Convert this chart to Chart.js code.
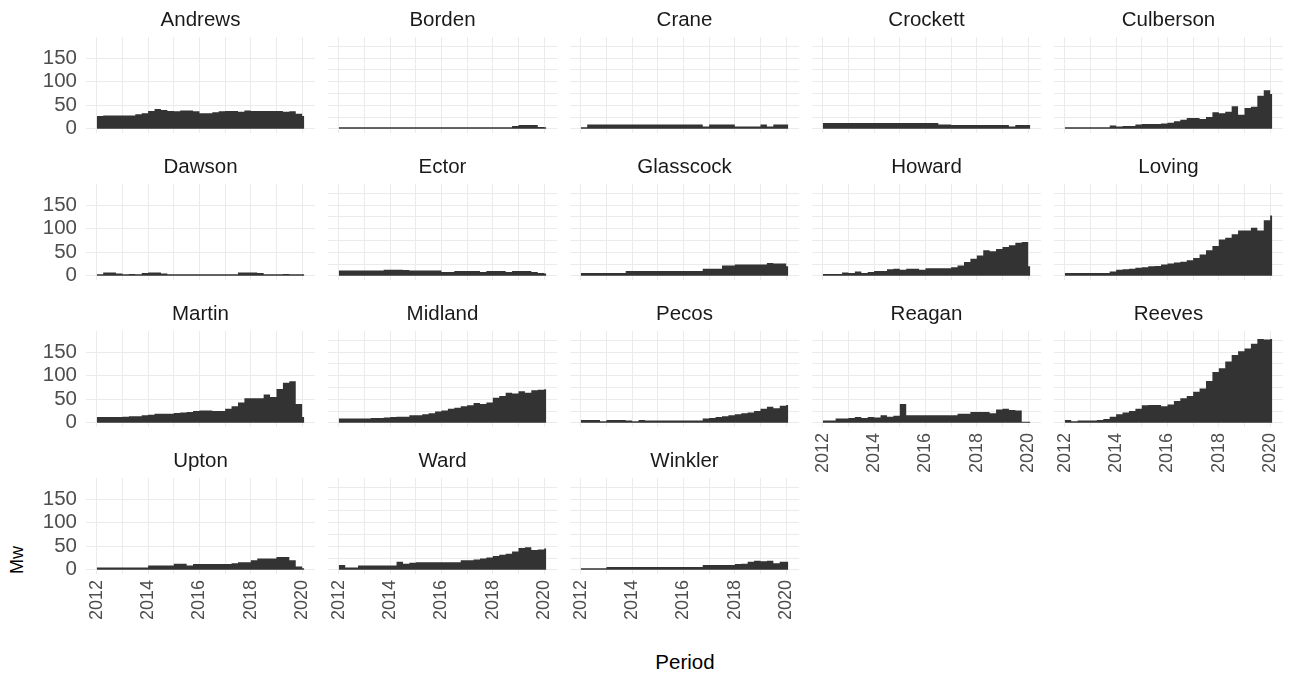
<!DOCTYPE html>
<html>
<head>
<meta charset="utf-8">
<script src="https://cdn.jsdelivr.net/npm/chart.js@4.4.1/dist/chart.umd.min.js"></script>
<style>
  body { margin: 0; background: #fff; font-family: "Liberation Sans", Arial, sans-serif; }
  #wrap { position: relative; width: 1292px; height: 675px; overflow: hidden; }
  #wrap canvas { position: absolute; }
  .axis-title { position: absolute; color: #000; white-space: nowrap; }
  #ylab { left: 17px; top: 560px; font-size: 18px; transform: translate(-50%, -50%) rotate(-90deg); }
  #xlab { left: 685px; top: 662px; font-size: 20.5px; transform: translate(-50%, -50%); }
</style>
</head>
<body>
<div id="wrap">
  <div class="axis-title" id="ylab">Mw</div>
  <div class="axis-title" id="xlab">Period</div>
</div>
<script>
// quarterly readings, last entry is the final month shown
const periods = [
  "2012-01", "2012-04", "2012-07", "2012-10",
  "2013-01", "2013-04", "2013-07", "2013-10",
  "2014-01", "2014-04", "2014-07", "2014-10",
  "2015-01", "2015-04", "2015-07", "2015-10",
  "2016-01", "2016-04", "2016-07", "2016-10",
  "2017-01", "2017-04", "2017-07", "2017-10",
  "2018-01", "2018-04", "2018-07", "2018-10",
  "2019-01", "2019-04", "2019-07", "2019-10",
  "2020-01", "2020-02"
];

const counties = ["Andrews", "Borden", "Crane", "Crockett", "Culberson",
  "Dawson", "Ector", "Glasscock", "Howard", "Loving",
  "Martin", "Midland", "Pecos", "Reagan", "Reeves",
  "Upton", "Ward", "Winkler"];

const andrews   = [28,27,28,28, 28,28,28,31, 33,38,42,40, 38,37,39,39, 37,33,33,35, 37,38,38,36, 39,38,38,38, 38,38,36,37, 32,27];
const borden    = [3,3,3,3, 3,3,3,3, 3,3,3,3, 3,3,3,3, 3,3,3,3, 3,3,3,3, 3,3,3,3, 6,8,8,8, 4,3];
const crane     = [3,3,9,9, 9,9,9,9, 9,9,9,9, 9,9,9,9, 9,9,9,9, 5,9,9,9, 9,5,5,5, 5,9,5,9, 9,9];
const crockett  = [7,12,12,12, 12,12,12,12, 12,12,12,12, 12,12,12,12, 12,12,12,9, 9,8,8,8, 8,8,8,8, 8,8,5,8, 8,8];
const culberson = [3,3,3,3, 3,3,3,3, 7,5,6,6, 9,10,10,10, 11,13,16,19, 23,23,21,25, 35,33,36,48, 30,44,47,70, 82,74];
const dawson    = [3,3,7,7, 5,3,4,3, 6,7,7,5, 3,3,3,3, 3,3,3,3, 3,3,3,7, 7,7,6,3, 3,3,4,3, 3,3];
const ector     = [6,11,11,11, 11,11,11,11, 13,13,13,12, 11,11,11,11, 11,8,8,10, 10,10,10,8, 10,10,10,8, 10,10,10,8, 6,5];
const glasscock = [5,6,6,6, 6,6,6,6, 10,10,10,10, 10,10,10,10, 10,10,10,10, 15,15,15,22, 22,24,24,24, 24,24,27,26, 26,20];
const howard    = [4,4,4,4, 7,6,9,6, 8,10,10,14, 15,13,15,15, 13,16,16,16, 16,18,22,29, 36,43,54,52, 57,61,65,70, 72,20];
const loving    = [3,6,6,6, 6,6,6,6, 9,13,14,15, 17,18,20,21, 24,26,28,30, 33,38,45,54, 63,77,81,88, 96,96,102,96, 118,128];
const martin    = [9,12,12,12, 12,13,14,14, 16,17,19,19, 19,21,22,23, 25,26,26,25, 25,30,35,43, 52,52,52,60, 55,72,85,88, 40,12];
const midland   = [9,9,9,9, 9,9,10,10, 11,12,13,13, 16,16,18,20, 24,26,30,32, 35,37,42,40, 43,53,57,64, 62,67,64,69, 70,71];
const pecos     = [6,6,6,6, 3,6,6,6, 5,3,6,5, 5,5,5,5, 5,5,5,5, 9,10,12,14, 16,18,20,22, 25,30,34,31, 36,38];
const reagan    = [5,5,5,9, 9,10,12,10, 12,11,16,13, 15,40,16,16, 16,16,16,16, 16,16,19,19, 23,23,23,20, 28,30,27,26, 2,2];
const reeves    = [6,6,3,5, 5,5,6,8, 13,18,22,25, 30,37,38,38, 35,39,46,52, 57,66,73,89, 108,116,130,144, 152,158,168,178, 177,178];
const upton     = [4,5,5,5, 5,5,5,5, 5,9,9,9, 9,13,13,9, 12,12,12,12, 12,12,14,16, 16,20,24,24, 24,27,27,20, 7,3];
const ward      = [5,10,5,5, 9,9,9,9, 9,9,17,13, 15,16,16,16, 16,16,16,16, 20,20,22,24, 26,29,32,34, 39,46,48,42, 43,45];
const winkler   = [3,3,3,3, 3,6,6,6, 6,6,6,6, 6,6,6,6, 6,6,6,6, 10,10,10,10, 10,12,13,17, 19,18,19,14, 17,17];

const series = [andrews, borden, crane, crockett, culberson, dawson, ector, glasscock, howard, loving,
  martin, midland, pecos, reagan, reeves, upton, ward, winkler];

const xTicks = [2012, 2013, 2014, 2015, 2016, 2017, 2018, 2019, 2020];
const yTicks = [0, 25, 50, 75, 100, 125, 150, 175];

const FONT = '"Liberation Sans", Arial, sans-serif';
Chart.defaults.font.family = FONT;

function toYear(p) {
  const [y, m] = p.split("-").map(Number);
  return y + (m - 1) / 12;
}

const rowTops = [0, 147, 294, 441];
const wrap = document.getElementById("wrap");

counties.forEach((name, i) => {
  const r = Math.floor(i / 5);
  const c = i % 5;
  const showY = c === 0;
  const showX = r === 3 || (r === 2 && c >= 3);

  const canvas = document.createElement("canvas");
  canvas.width = showY ? 315 : 229;
  canvas.height = 37 + 96 + 60;
  canvas.style.left = (showY ? 0 : 86 + 242 * c) + "px";
  canvas.style.top = rowTops[r] + "px";
  wrap.appendChild(canvas);

  const values = series[i];
  new Chart(canvas, {
    type: "line",
    data: {
      datasets: [{
        data: periods.map((p, k) => ({ x: toYear(p), y: values[k] })),
        fill: "origin",
        backgroundColor: "#333333",
        borderColor: "#333333",
        borderWidth: 0,
        pointRadius: 0,
        stepped: "after",
      }],
    },
    options: {
      responsive: false,
      animation: false,
      events: [],
      layout: { padding: 0 },
      plugins: {
        legend: { display: false },
        tooltip: { enabled: false },
        title: {
          display: true,
          text: name,
          fullSize: false,
          color: "#1a1a1a",
          font: { size: 20.5, weight: "normal", lineHeight: 1 },
          padding: { top: 10, bottom: 6.5 },
        },
      },
      scales: {
        x: {
          type: "linear",
          min: 2011.58,
          max: 2020.5,
          afterBuildTicks: (s) => { s.ticks = xTicks.map((v) => ({ value: v })); },
          afterFit: (s) => {
            s.height = 60;
            s.paddingLeft = 0;
            s.paddingRight = 0;
          },
          border: { display: false },
          grid: { color: "#ebebeb", lineWidth: 1, drawTicks: false },
          ticks: {
            display: showX,
            autoSkip: false,
            minRotation: 90,
            maxRotation: 90,
            padding: 6,
            color: "#4d4d4d",
            font: { size: 18 },
            callback: (v) => (v % 2 === 0 ? String(v) : ""),
          },
        },
        y: {
          min: -9,
          max: 195,
          afterBuildTicks: (s) => { s.ticks = yTicks.map((v) => ({ value: v })); },
          afterFit: (s) => {
            s.width = showY ? 86 : 0;
            s.paddingTop = 0;
            s.paddingBottom = 0;
          },
          border: { display: false },
          grid: { color: "#ebebeb", lineWidth: 1, drawTicks: false },
          ticks: {
            display: showY,
            padding: 9,
            color: "#4d4d4d",
            font: { size: 20.5 },
            callback: (v) => (v % 50 === 0 ? String(v) : ""),
          },
        },
      },
    },
  });
});
</script>
</body>
</html>
